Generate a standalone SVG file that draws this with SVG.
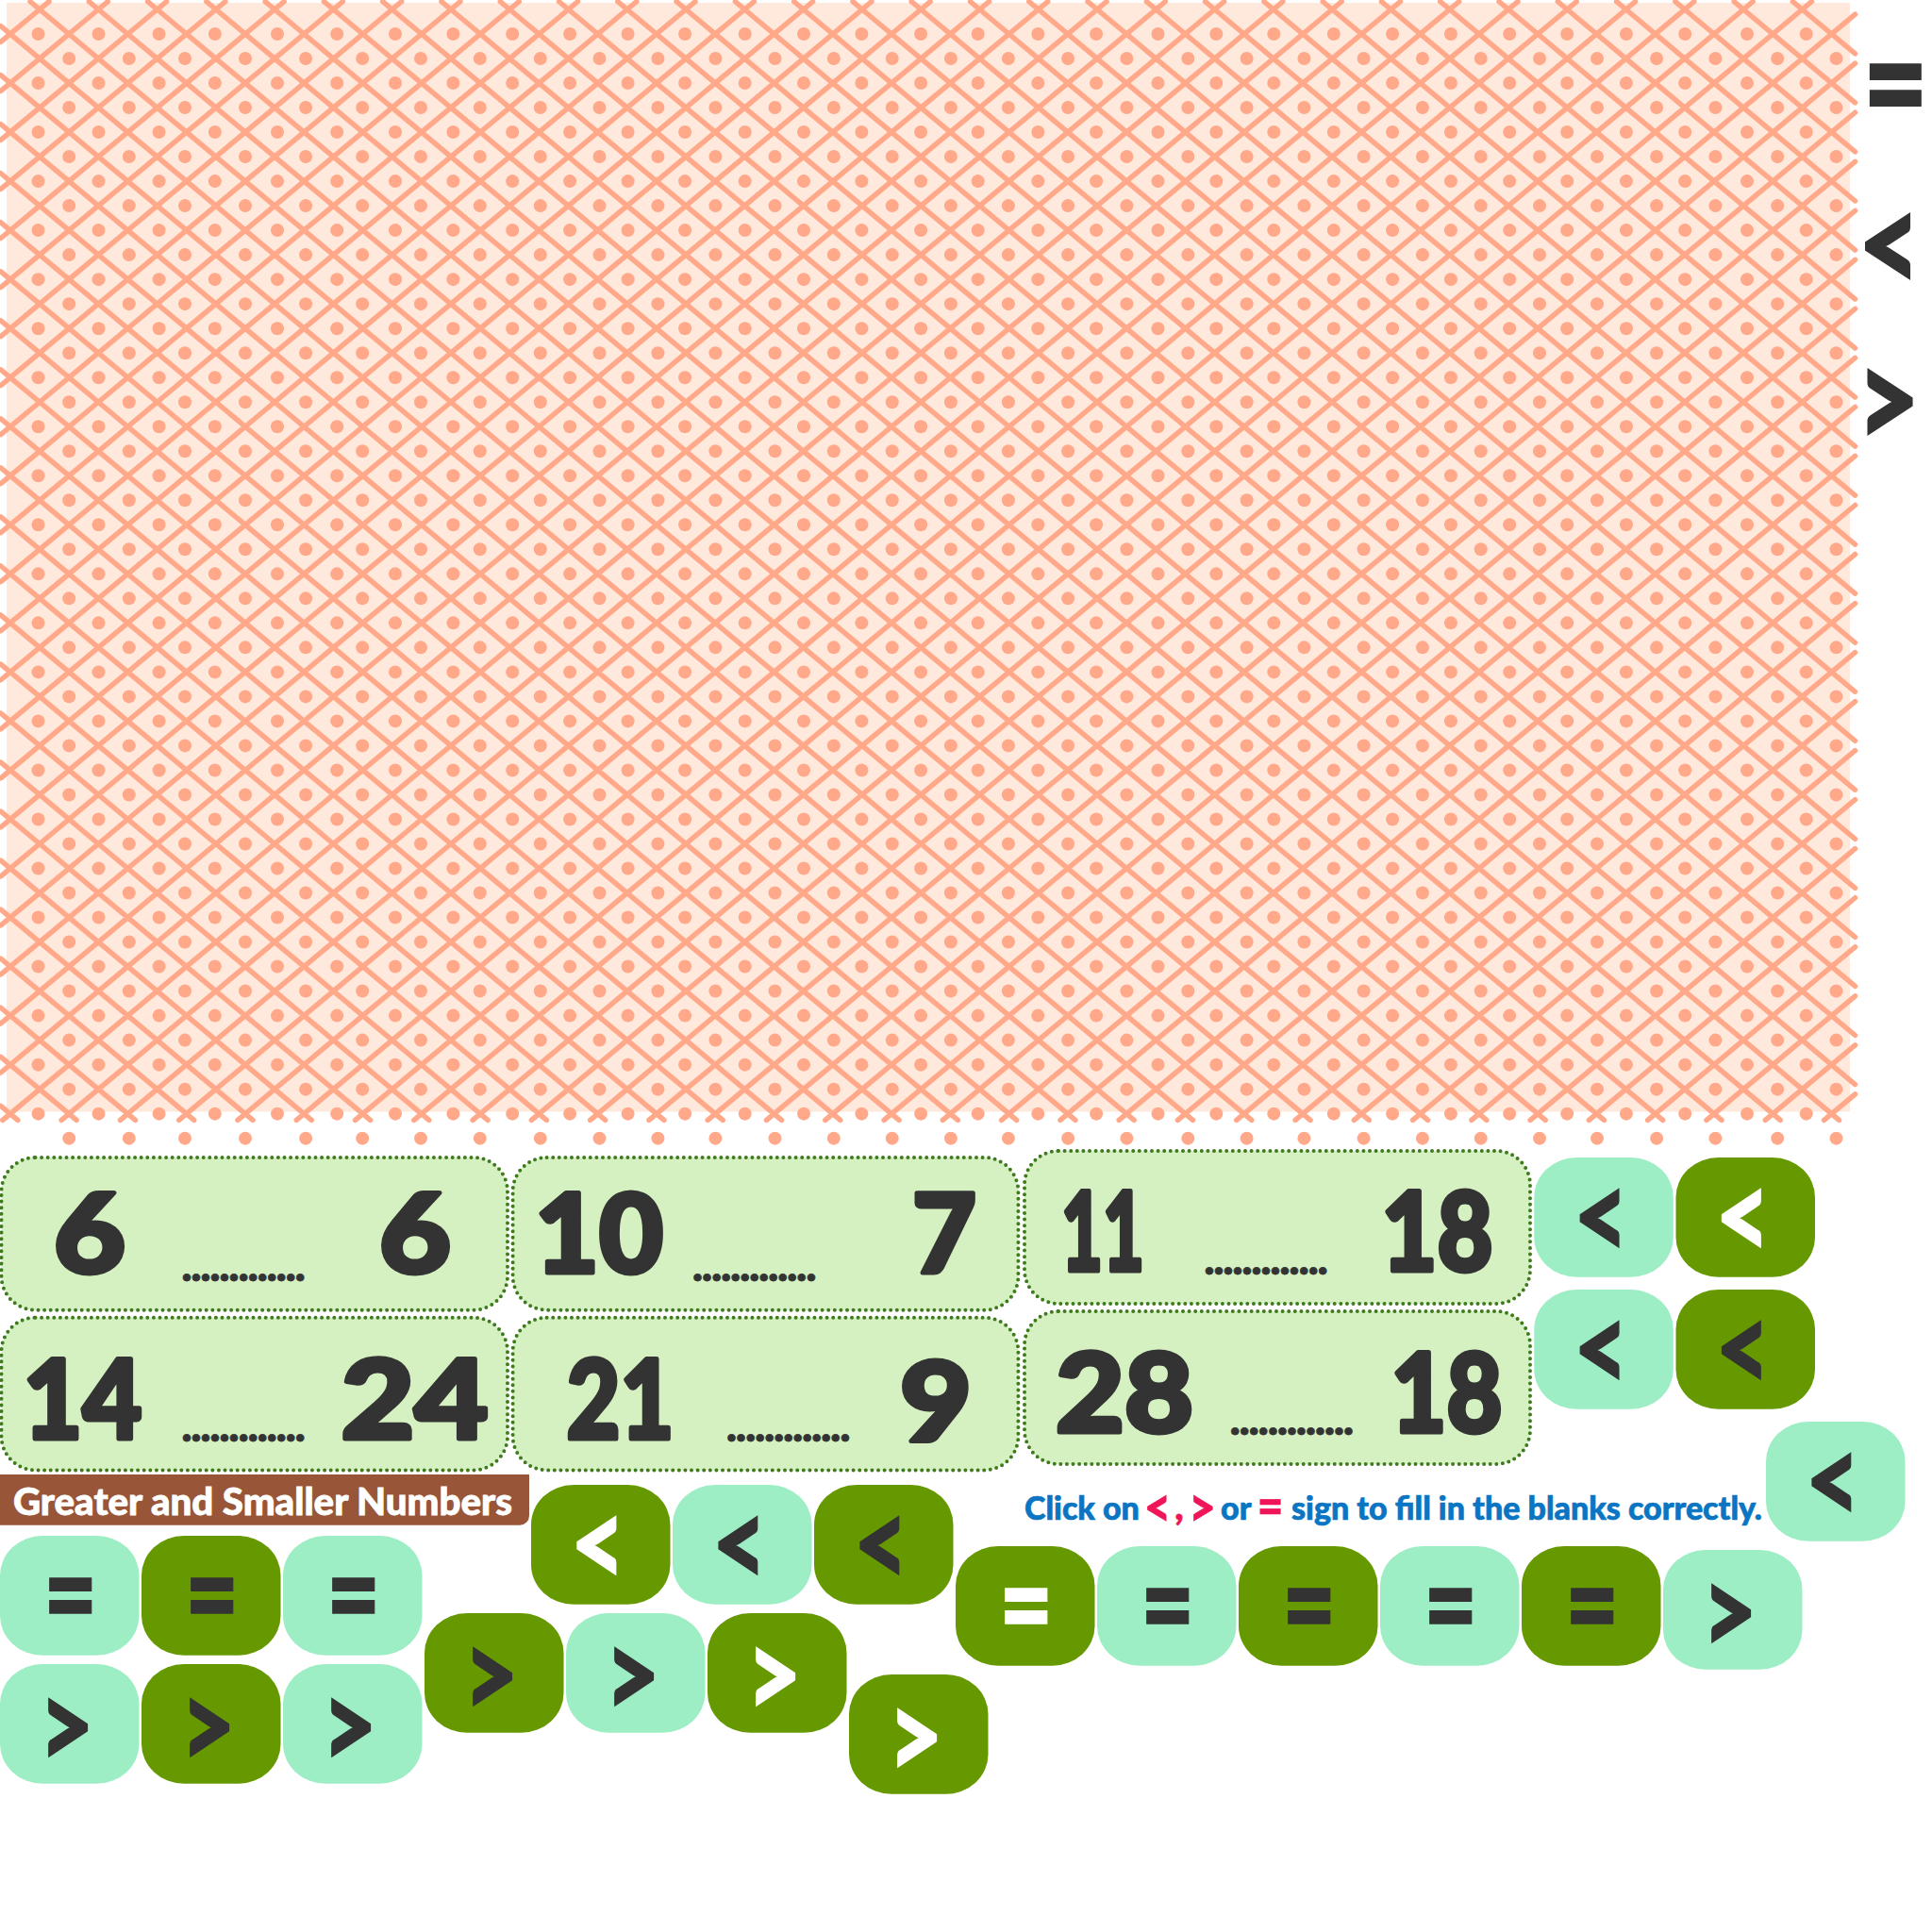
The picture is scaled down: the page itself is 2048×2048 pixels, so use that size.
<svg xmlns="http://www.w3.org/2000/svg" width="2048" height="2048" viewBox="0 0 2048 2048">
<style>
text{font-family:"Lato","Noto Sans",sans-serif;font-weight:900}
.ln{stroke:#FFA98A;stroke-width:5.5;stroke-linecap:round}
.dt{fill:#FFA98A}
.card{fill:#D6F1C1;stroke:#3F7A1E;stroke-width:4;stroke-linecap:round;stroke-dasharray:0 6.6}
.n{font-size:116px;fill:#333;stroke:#333;stroke-width:5;stroke-linejoin:round;text-anchor:middle}
.blank{font-size:48px;fill:#333;stroke:#333;stroke-width:.8;text-anchor:middle;letter-spacing:-1.4px}
.b{width:147.5px;height:126.7px;rx:45px;ry:42px}
.L{fill:#9DEEC4}.D{fill:#669900}
.s{font-size:130px;text-anchor:middle;fill:#333;stroke:#333;stroke-width:1.5}
.e{font-size:132px;text-anchor:middle;fill:#333;stroke:#333;stroke-width:1.5}
.w{fill:#fff;stroke:#fff}
.big{fill:#333;stroke:#333;stroke-width:2;text-anchor:middle}
.ins{font-size:34px;fill:#0A75C2;stroke:#0A75C2;stroke-width:.7}
.pk{fill:#EF1558;stroke:#EF1558;text-anchor:middle}
.ttl{font-size:40px;fill:#fff;stroke:#fff;stroke-width:.8}
</style>
<defs>
<g id="t"><line x1="42" y1="10" x2="104.28" y2="62.03"/><line x1="104.28" y1="10" x2="42" y2="62.03"/></g>
<g id="t2"><use href="#t"/><use href="#t" x="62.28"/></g>
<g id="t4"><use href="#t2"/><use href="#t2" x="124.56"/></g>
<g id="t8"><use href="#t4"/><use href="#t4" x="249.12"/></g>
<g id="t16"><use href="#t8"/><use href="#t8" x="498.24"/></g>
<g id="t30"><use href="#t16"/><use href="#t8" x="996.48"/><use href="#t4" x="1494.72"/><use href="#t2" x="1743.84"/></g>
<g id="c2"><use href="#t30"/><use href="#t30" y="52.03"/></g>
<g id="c4"><use href="#c2"/><use href="#c2" y="104.06"/></g>
<g id="c8"><use href="#c4"/><use href="#c4" y="208.12"/></g>
<g id="c16"><use href="#c8"/><use href="#c8" y="416.24"/></g>
<g id="m"><line x1="42" y1="10" x2="0.86" y2="44.37"/><line x1="42" y1="62.03" x2="0.86" y2="27.66"/><line x1="1910.4" y1="10" x2="1966.5" y2="56.9"/><line x1="1910.4" y1="62.03" x2="1966.5" y2="15.2"/></g>
<g id="m2"><use href="#m"/><use href="#m" y="52.03"/></g>
<g id="m4"><use href="#m2"/><use href="#m2" y="104.06"/></g>
<g id="m8"><use href="#m4"/><use href="#m4" y="208.12"/></g>
<g id="m16"><use href="#m8"/><use href="#m8" y="416.24"/></g>
<g id="e"><line x1="32" y1="1.65" x2="42" y2="10"/><line x1="52" y1="1.65" x2="42" y2="10"/><line x1="42" y1="1154.67" x2="81.14" y2="1187.4"/><line x1="104.28" y1="1154.67" x2="65.14" y2="1187.4"/></g>
<g id="e2"><use href="#e"/><use href="#e" x="62.28"/></g>
<g id="e4"><use href="#e2"/><use href="#e2" x="124.56"/></g>
<g id="e8"><use href="#e4"/><use href="#e4" x="249.12"/></g>
<g id="e16"><use href="#e8"/><use href="#e8" x="498.24"/></g>
<g id="d">
<circle cx="40.5" cy="36" r="7"/><circle cx="104.5" cy="36" r="7"/><circle cx="168.6" cy="36" r="7"/><circle cx="227.8" cy="36" r="7"/><circle cx="294" cy="36" r="7"/><circle cx="357.2" cy="36" r="7"/><circle cx="419" cy="36" r="7"/><circle cx="480.4" cy="36" r="7"/><circle cx="543.2" cy="36" r="7"/><circle cx="604.1" cy="36" r="7"/><circle cx="665.6" cy="36" r="7"/><circle cx="726.1" cy="36" r="7"/><circle cx="789.7" cy="36" r="7"/><circle cx="852" cy="36" r="7"/><circle cx="913.4" cy="36" r="7"/><circle cx="976.1" cy="36" r="7"/><circle cx="1036.7" cy="36" r="7"/><circle cx="1100.3" cy="36" r="7"/><circle cx="1162.1" cy="36" r="7"/><circle cx="1227.5" cy="36" r="7"/><circle cx="1289.3" cy="36" r="7"/><circle cx="1350.3" cy="36" r="7"/><circle cx="1413.8" cy="36" r="7"/><circle cx="1476.1" cy="36" r="7"/><circle cx="1537.9" cy="36" r="7"/><circle cx="1600.2" cy="36" r="7"/><circle cx="1661.2" cy="36" r="7"/><circle cx="1723.9" cy="36" r="7"/><circle cx="1786.2" cy="36" r="7"/><circle cx="1852" cy="36" r="7"/><circle cx="1914.7" cy="36" r="7"/>
<circle cx="73.2" cy="62" r="7"/><circle cx="136.8" cy="62" r="7"/><circle cx="196" cy="62" r="7"/><circle cx="260" cy="62" r="7"/><circle cx="324.1" cy="62" r="7"/><circle cx="384.2" cy="62" r="7"/><circle cx="446" cy="62" r="7"/><circle cx="508.8" cy="62" r="7"/><circle cx="572.8" cy="62" r="7"/><circle cx="635.5" cy="62" r="7"/><circle cx="697.4" cy="62" r="7"/><circle cx="758.4" cy="62" r="7"/><circle cx="821.5" cy="62" r="7"/><circle cx="883.8" cy="62" r="7"/><circle cx="945.7" cy="62" r="7"/><circle cx="1007.9" cy="62" r="7"/><circle cx="1068.9" cy="62" r="7"/><circle cx="1132.1" cy="62" r="7"/><circle cx="1194.4" cy="62" r="7"/><circle cx="1259.3" cy="62" r="7"/><circle cx="1321.6" cy="62" r="7"/><circle cx="1382.4" cy="62" r="7"/><circle cx="1445.6" cy="62" r="7"/><circle cx="1507.9" cy="62" r="7"/><circle cx="1569.7" cy="62" r="7"/><circle cx="1632" cy="62" r="7"/><circle cx="1693" cy="62" r="7"/><circle cx="1756.1" cy="62" r="7"/><circle cx="1818.4" cy="62" r="7"/><circle cx="1884.2" cy="62" r="7"/><circle cx="1946.5" cy="62" r="7"/>
</g>
<g id="d2"><use href="#d"/><use href="#d" y="52.03"/></g>
<g id="d4"><use href="#d2"/><use href="#d2" y="104.06"/></g>
<g id="d8"><use href="#d4"/><use href="#d4" y="208.12"/></g>
<g id="d16"><use href="#d8"/><use href="#d8" y="416.24"/></g>
</defs>
<g id="pattern">
<rect x="7" y="3" width="1954" height="1175.5" fill="#FFE9DD"/>
<g class="ln">
<use href="#c16"/><use href="#c4" y="832.48"/><use href="#c2" y="1040.6"/>
<use href="#m16"/><use href="#m4" y="832.48"/><use href="#m2" y="1040.6"/>
<use href="#e16"/><use href="#e8" x="996.48"/><use href="#e4" x="1494.72"/><use href="#e2" x="1743.84"/>
<line x1="1900.4" y1="1.65" x2="1910.4" y2="10"/><line x1="1920.4" y1="1.65" x2="1910.4" y2="10"/>
<line x1="42" y1="1154.67" x2="2.86" y2="1187.4"/><line x1="0.86" y1="1172.4" x2="18.86" y2="1187.4"/>
<line x1="1910.4" y1="1154.67" x2="1949.54" y2="1187.4"/><line x1="1966.5" y1="1159.8" x2="1933.54" y2="1187.4"/>
</g>
<g class="dt"><use href="#d16"/><use href="#d4" y="832.48"/><use href="#d2" y="1040.6"/><use href="#d" y="1144.66"/></g>
</g>
<g id="big-signs">
<text class="big" style="text-anchor:end" transform="translate(2044,143) scale(.76,1)" font-size="157">=</text>
<text class="big" transform="translate(2003,310) scale(.8,1)" font-size="145">&lt;</text>
<text class="big" transform="translate(2001.7,475) scale(.8,1)" font-size="145">&gt;</text>
</g>
<g id="card-1"><rect class="card" x="1.5" y="1227" width="536.5" height="161.7" rx="36"/><text class="n" x="95" y="1349" textLength="76" lengthAdjust="spacingAndGlyphs">6</text><text class="blank" x="257.4" y="1358">.............</text><text class="n" x="440" y="1349" textLength="76" lengthAdjust="spacingAndGlyphs">6</text></g>
<g id="card-2"><rect class="card" x="543.6" y="1227" width="535.8" height="161.7" rx="36"/><text class="n" x="635" y="1349" textLength="136" lengthAdjust="spacingAndGlyphs">10</text><text class="blank" x="799" y="1358">.............</text><text class="n" x="1001" y="1349" textLength="68" lengthAdjust="spacingAndGlyphs">7</text></g>
<g id="card-3"><rect class="card" x="1086" y="1220" width="536" height="162" rx="36"/><text class="n" x="1169" y="1347" textLength="88" lengthAdjust="spacingAndGlyphs">11</text><text class="blank" x="1341.3" y="1351">.............</text><text class="n" x="1523.5" y="1347" textLength="118" lengthAdjust="spacingAndGlyphs">18</text></g>
<g id="card-4"><rect class="card" x="1.5" y="1396.7" width="536.5" height="161.7" rx="36"/><text class="n" x="87.5" y="1525" textLength="126" lengthAdjust="spacingAndGlyphs">14</text><text class="blank" x="257.4" y="1528">.............</text><text class="n" x="439.5" y="1525" textLength="156" lengthAdjust="spacingAndGlyphs">24</text></g>
<g id="card-5"><rect class="card" x="543.6" y="1396.7" width="535.8" height="161.7" rx="36"/><text class="n" x="657.5" y="1525" textLength="114" lengthAdjust="spacingAndGlyphs">21</text><text class="blank" x="835" y="1528">.............</text><text class="n" x="992" y="1527" textLength="76" lengthAdjust="spacingAndGlyphs">9</text></g>
<g id="card-6"><rect class="card" x="1086" y="1390" width="536" height="162" rx="36"/><text class="n" x="1192" y="1518" textLength="146" lengthAdjust="spacingAndGlyphs">28</text><text class="blank" x="1368.7" y="1521">.............</text><text class="n" x="1533.5" y="1518" textLength="118" lengthAdjust="spacingAndGlyphs">18</text></g>
<g id="title"><path d="M0 1563H561V1606.7a10 10 0 0 1-10 10H0Z" fill="#985538"/><text class="ttl" x="14" y="1605.5" textLength="529" lengthAdjust="spacingAndGlyphs">Greater and Smaller Numbers</text></g>
<g id="instruction"><text class="ins" x="1086" y="1611">Click on</text><text class="ins pk" transform="translate(1227,1618) scale(.85,1)" style="font-size:58px">&lt;</text><text class="ins pk" x="1250" y="1611" style="font-size:40px">,</text><text class="ins pk" transform="translate(1274.5,1618) scale(.85,1)" style="font-size:58px">&gt;</text><text class="ins" x="1294" y="1611">or</text><text class="ins pk" transform="translate(1346.5,1616) scale(.85,1)" style="font-size:56px">=</text><text class="ins" x="1369" y="1611">sign to fill in the blanks correctly.</text></g>
<g id="b1"><rect class="b L" x="0" y="1628"/><text class="e" x="74.7" y="1736" textLength="57" lengthAdjust="spacingAndGlyphs">=</text></g>
<g id="b2"><rect class="b D" x="150" y="1628"/><text class="e" x="224.7" y="1736" textLength="57" lengthAdjust="spacingAndGlyphs">=</text></g>
<g id="b3"><rect class="b L" x="300" y="1628"/><text class="e" x="374.7" y="1736" textLength="57" lengthAdjust="spacingAndGlyphs">=</text></g>
<g id="b4"><rect class="b L" x="0" y="1764"/><text class="s" x="70.6" y="1875.3" textLength="59" lengthAdjust="spacingAndGlyphs">&gt;</text></g>
<g id="b5"><rect class="b D" x="150" y="1764"/><text class="s" x="220.6" y="1875.3" textLength="59" lengthAdjust="spacingAndGlyphs">&gt;</text></g>
<g id="b6"><rect class="b L" x="300" y="1764"/><text class="s" x="370.6" y="1875.3" textLength="59" lengthAdjust="spacingAndGlyphs">&gt;</text></g>
<g id="b7"><rect class="b D" x="450" y="1710"/><text class="s" x="520.6" y="1821.3" textLength="59" lengthAdjust="spacingAndGlyphs">&gt;</text></g>
<g id="b8"><rect class="b L" x="600" y="1710"/><text class="s" x="670.6" y="1821.3" textLength="59" lengthAdjust="spacingAndGlyphs">&gt;</text></g>
<g id="b9"><rect class="b D" x="750" y="1710"/><text class="s w" x="820.6" y="1821.3" textLength="59" lengthAdjust="spacingAndGlyphs">&gt;</text></g>
<g id="b10"><rect class="b D" x="900" y="1775"/><text class="s w" x="970.6" y="1886.3" textLength="59" lengthAdjust="spacingAndGlyphs">&gt;</text></g>
<g id="b11"><rect class="b D" x="563" y="1574"/><text class="s w" x="634" y="1682.3" textLength="59" lengthAdjust="spacingAndGlyphs">&lt;</text></g>
<g id="b12"><rect class="b L" x="713" y="1574"/><text class="s" x="784" y="1682.3" textLength="59" lengthAdjust="spacingAndGlyphs">&lt;</text></g>
<g id="b13"><rect class="b D" x="863" y="1574"/><text class="s" x="934" y="1682.3" textLength="59" lengthAdjust="spacingAndGlyphs">&lt;</text></g>
<g id="b14"><rect class="b D" x="1013" y="1639"/><text class="e w" x="1087.7" y="1747" textLength="57" lengthAdjust="spacingAndGlyphs">=</text></g>
<g id="b15"><rect class="b L" x="1163" y="1639"/><text class="e" x="1237.7" y="1747" textLength="57" lengthAdjust="spacingAndGlyphs">=</text></g>
<g id="b16"><rect class="b D" x="1313" y="1639"/><text class="e" x="1387.7" y="1747" textLength="57" lengthAdjust="spacingAndGlyphs">=</text></g>
<g id="b17"><rect class="b L" x="1463" y="1639"/><text class="e" x="1537.7" y="1747" textLength="57" lengthAdjust="spacingAndGlyphs">=</text></g>
<g id="b18"><rect class="b D" x="1613" y="1639"/><text class="e" x="1687.7" y="1747" textLength="57" lengthAdjust="spacingAndGlyphs">=</text></g>
<g id="b19"><rect class="b L" x="1763" y="1643"/><text class="s" x="1833.6" y="1754.3" textLength="59" lengthAdjust="spacingAndGlyphs">&gt;</text></g>
<g id="b20"><rect class="b L" x="1626.3" y="1227"/><text class="s" x="1697.3" y="1335.3" textLength="59" lengthAdjust="spacingAndGlyphs">&lt;</text></g>
<g id="b21"><rect class="b D" x="1776.5" y="1227"/><text class="s w" x="1847.5" y="1335.3" textLength="59" lengthAdjust="spacingAndGlyphs">&lt;</text></g>
<g id="b22"><rect class="b L" x="1626.3" y="1367"/><text class="s" x="1697.3" y="1475.3" textLength="59" lengthAdjust="spacingAndGlyphs">&lt;</text></g>
<g id="b23"><rect class="b D" x="1776.5" y="1367"/><text class="s" x="1847.5" y="1475.3" textLength="59" lengthAdjust="spacingAndGlyphs">&lt;</text></g>
<g id="b24"><rect class="b L" x="1872" y="1507"/><text class="s" x="1943" y="1615.3" textLength="59" lengthAdjust="spacingAndGlyphs">&lt;</text></g>
</svg>
